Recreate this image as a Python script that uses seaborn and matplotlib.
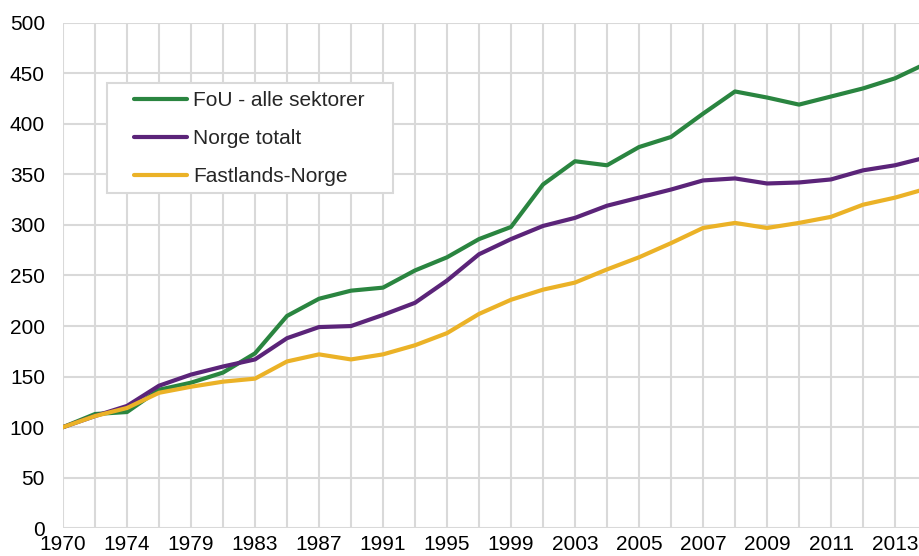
import numpy as np
import pandas as pd
import seaborn as sns
import matplotlib.pyplot as plt
from matplotlib.patches import Rectangle


years = ['1970', '1972', '1974', '1977', '1979', '1981', '1983', '1985', '1987', '1989',
         '1991', '1993', '1995', '1997', '1999', '2001', '2003', '2004', '2005', '2006',
         '2007', '2008', '2009', '2010', '2011', '2012', '2013', '2014']
fou = [100, 113, 115, 137, 144, 154, 173, 210, 227, 235, 238, 255, 268, 286, 298, 340,
       363, 359, 377, 387, 410, 432, 426, 419, 427, 435, 445, 460]
norge = [100, 111, 121, 141, 152, 160, 167, 188, 199, 200, 211, 223, 245, 271, 286, 299,
         307, 319, 327, 335, 344, 346, 341, 342, 345, 354, 359, 367]
fastland = [100, 111, 119, 134, 140, 145, 148, 165, 172, 167, 172, 181, 193, 212, 226, 236,
            243, 256, 268, 282, 297, 302, 297, 302, 308, 320, 327, 336]
series = ['FoU - alle sektorer', 'Norge totalt', 'Fastlands-Norge']
colors = ['#2a8540', '#5b2479', '#ebb227']

df = pd.DataFrame({'year': years, series[0]: fou, series[1]: norge, series[2]: fastland})
long = df.melt(id_vars='year', var_name='serie', value_name='indeks')

sns.set_style('white')
plt.rcParams['font.family'] = ['Liberation Sans', 'DejaVu Sans']

fig = plt.figure(figsize=(9.19, 5.56), dpi=100)
# axes runs a bit past the right edge, like the cropped original
ax = fig.add_axes([63 / 919, 27.7 / 556, 864 / 919, 505.6 / 556])

sns.lineplot(data=long, x='year', y='indeks', hue='serie', palette=colors,
             linewidth=3, ax=ax, sort=False)

ax.set_xlim(0, len(years) - 1)
ax.set_ylim(0, 500)
ax.set_yticks(np.arange(0, 501, 50))
ax.set_xticks(range(len(years)))
ax.set_xticklabels([y if i % 2 == 0 else '' for i, y in enumerate(years)])
ax.tick_params(axis='both', length=0, labelsize=15, colors='black')
ax.tick_params(axis='y', pad=13)
ax.tick_params(axis='x', pad=5)
ax.grid(True, color='#d9d9d9', linewidth=1.5)
ax.set_axisbelow(True)
for s in ax.spines.values():
    s.set_visible(False)
ax.set_xlabel('')
ax.set_ylabel('')

# legend box drawn by hand (wider side padding than matplotlib allows)
fig.patches.append(Rectangle((107 / 919, 1 - 193 / 556), 286 / 919, 110 / 556,
                             transform=fig.transFigure, facecolor='white',
                             edgecolor='#d9d9d9', linewidth=1.5, zorder=5))
handles, labels = ax.get_legend_handles_labels()
leg = fig.legend(handles, labels, loc='upper left', bbox_to_anchor=(134 / 919, 1 - 91 / 556),
                 bbox_transform=fig.transFigure, frameon=False, fontsize=15,
                 handlelength=2.55, handletextpad=0.3, labelspacing=0.92, borderaxespad=0,
                 borderpad=0)
leg.set_zorder(6)
ax.get_legend().remove()

plt.savefig('out.png', dpi=100)
